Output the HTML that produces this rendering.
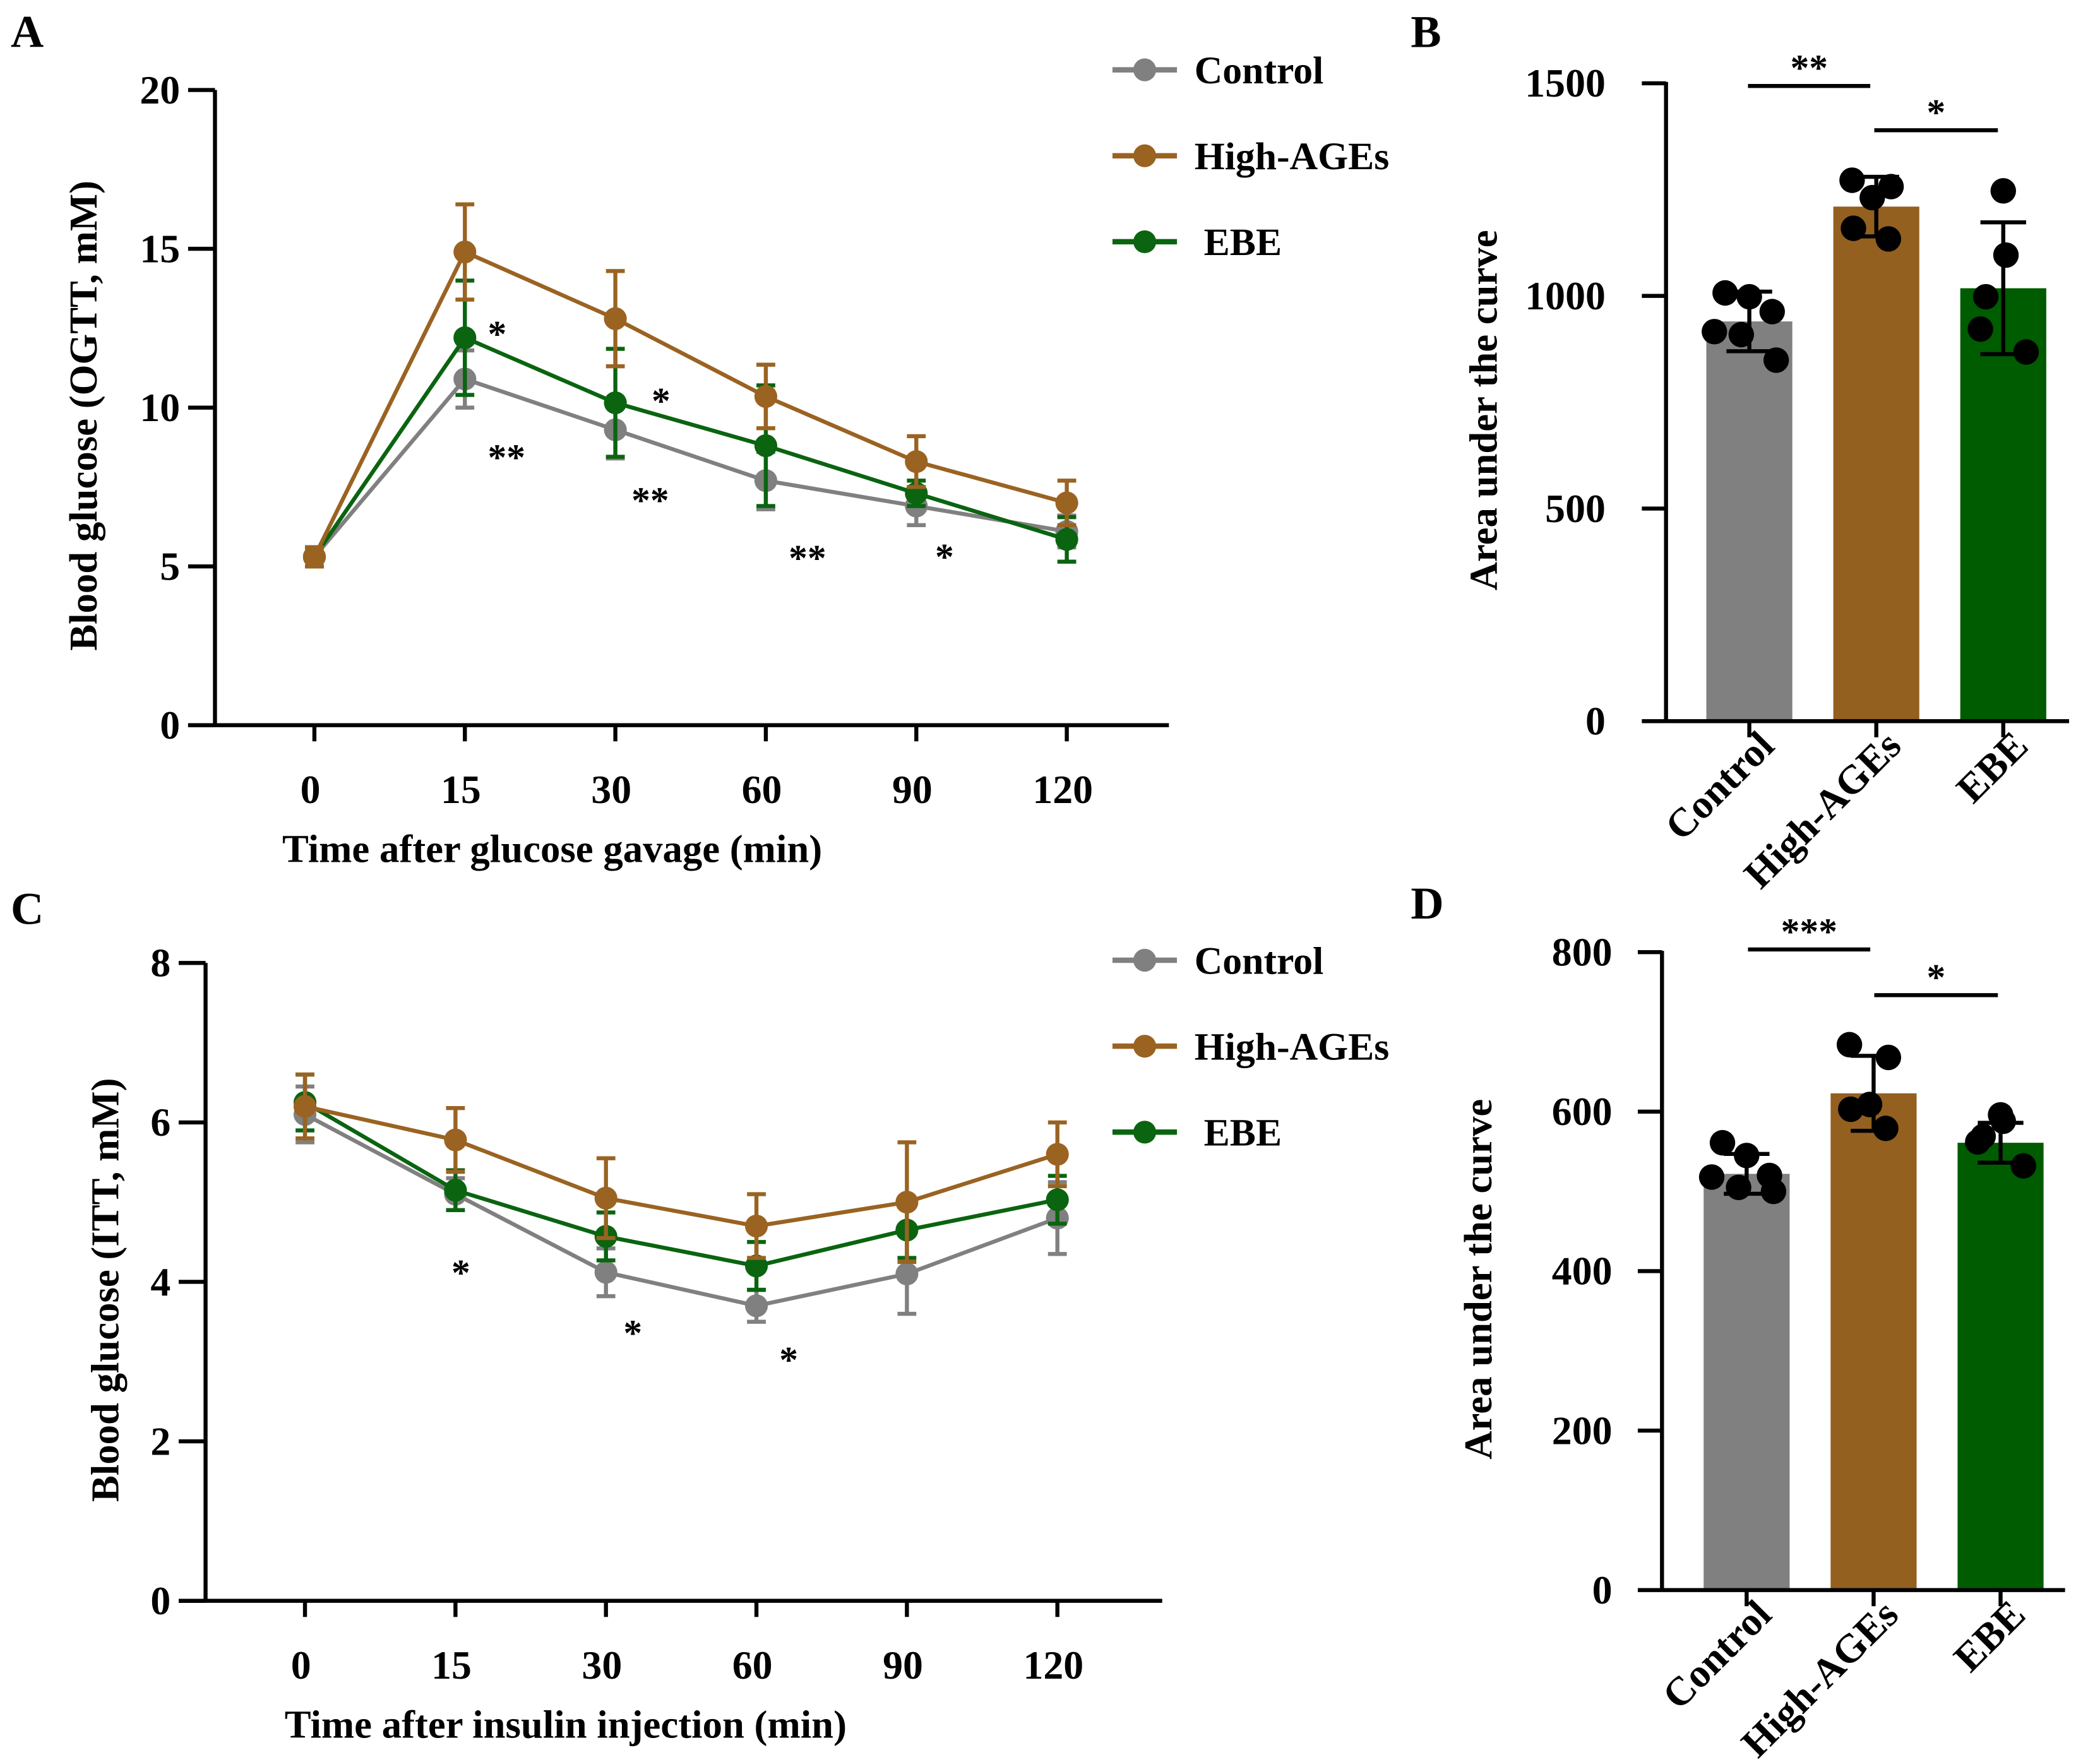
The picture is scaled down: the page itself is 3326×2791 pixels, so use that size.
<!DOCTYPE html>
<html><head><meta charset="utf-8"><style>
html,body{margin:0;padding:0;background:#fff}
svg{display:block}
text{font-family:"Liberation Serif",serif;font-weight:bold;fill:#000}
</style></head><body>
<svg id="fig" width="3326" height="2791" viewBox="0 0 1563 1312" preserveAspectRatio="none" xmlns="http://www.w3.org/2000/svg"></svg>
<script>
// ---------- DATA ----------
const timeLabels = ["0","15","30","60","90","120"];
const seriesNames = ["Control","High-AGEs","EBE"];
const ogttControl = [5.3,10.9,9.3,7.7,6.9,6.1];
const ogttControlErr = [0.3,0.9,0.9,0.9,0.6,0.5];
const ogttHigh = [5.3,14.9,12.8,10.35,8.3,7.0];
const ogttHighErr = [0.3,1.5,1.5,1.0,0.8,0.7];
const ogttEBE = [5.3,12.2,10.15,8.8,7.3,5.85];
const ogttEBEErr = [0.3,1.8,1.7,1.9,0.4,0.7];
const ogttTicks = [0,5,10,15,20];
const ittControl = [6.1,5.1,4.12,3.7,4.1,4.8];
const ittControlErr = [0.35,0.2,0.3,0.2,0.5,0.45];
const ittHigh = [6.2,5.78,5.05,4.7,5.0,5.6];
const ittHighErr = [0.4,0.4,0.5,0.4,0.75,0.4];
const ittEBE = [6.25,5.15,4.57,4.2,4.65,5.03];
const ittEBEErr = [0.35,0.25,0.3,0.3,0.35,0.3];
const ittTicks = [0,2,4,6,8];
const barCats = ["Control","High-AGEs","EBE"];
const aucOgtt = [940,1210,1018];
const aucOgttErr = [70,70,155];
const aucOgttDots = [[1007,998,963,916,909,849],[1272,1257,1231,1159,1134],[1247,1096,998,922,868]];
const aucOgttTicks = [0,500,1000,1500];
const aucItt = [522,623,561];
const aucIttErr = [25,47,25];
const aucIttDots = [[561,545,520,518,505,500],[684,668,609,603,579],[596,588,569,562,532]];
const aucIttTicks = [0,200,400,600,800];

const colors = ["#808080","#9a6322","#0a6410"];
const barColors = ["#808080","#936020","#005c00"];
const dotDx = [[-18,0,17,-26,-6,20],[-18,11,-3,-17,9],[0,2,-13,-17,17]];

const svg = document.getElementById('fig');
const NS = "http://www.w3.org/2000/svg";
function el(tag, attrs, parent){const e=document.createElementNS(NS,tag);for(const k in attrs)e.setAttribute(k,attrs[k]);(parent||svg).appendChild(e);return e;}
function txt(s,x,y,size,anchor,parent,extra){const t=el('text',Object.assign({x:x,y:y,'font-size':size,'text-anchor':anchor||'middle'},extra||{}),parent);t.textContent=s;return t;}

function linePanel(cfg){
  const g=el('g',{});
  
  
  const yMax=cfg.ticks[cfg.ticks.length-1];
  const ys=v=>cfg.y0-(cfg.y0-cfg.yTop)*v/yMax;
  const xs=i=>cfg.x0+cfg.dx*i;
  const ya=el('line',{x1:cfg.ax,y1:cfg.yTop,x2:cfg.ax,y2:cfg.y0+1,stroke:'#000','stroke-width':3},g);
  
  const xa=el('line',{x1:cfg.ax-20,y1:cfg.y0,x2:cfg.axEnd,y2:cfg.y0,stroke:'#000','stroke-width':3},g);
  
  cfg.ticks.forEach(v=>{
    el('line',{x1:cfg.ax-20,y1:ys(v),x2:cfg.ax,y2:ys(v),stroke:'#000','stroke-width':3},g);
    const t=txt(String(v),cfg.ax-26,ys(v)+10,30,'end',g);
    
  });
  timeLabels.forEach((l,i)=>{
    el('line',{x1:xs(i),y1:cfg.y0,x2:xs(i),y2:cfg.y0+12,stroke:'#000','stroke-width':3},g);
    const t=txt(l,xs(i)-3,cfg.y0+58,30,'middle',g);
    
  });
  const yt=txt(cfg.yTitle,0,0,29.5,'middle',g,{transform:`translate(${cfg.ytx},${(cfg.y0+cfg.yTop)/2+6}) rotate(-90)`});
  
  const xt=txt(cfg.xTitle,cfg.xtx,cfg.y0+102,29.5,'middle',g);
  
  const order=[0,2,1];
  order.forEach(si=>{
    const vals=cfg.series[si], errs=cfg.errs[si];
    const sg=el('g',{},g);
    
    
    vals.forEach((v,i)=>{
      el('line',{x1:xs(i),y1:ys(v-errs[i]),x2:xs(i),y2:ys(v+errs[i]),stroke:colors[si],'stroke-width':3},sg);
      el('line',{x1:xs(i)-7,y1:ys(v+errs[i]),x2:xs(i)+7,y2:ys(v+errs[i]),stroke:colors[si],'stroke-width':3},sg);
      el('line',{x1:xs(i)-7,y1:ys(v-errs[i]),x2:xs(i)+7,y2:ys(v-errs[i]),stroke:colors[si],'stroke-width':3},sg);
    });
    el('polyline',{points:vals.map((v,i)=>xs(i)+','+ys(v)).join(' '),fill:'none',stroke:colors[si],'stroke-width':3},sg);
    vals.forEach((v,i)=>{
      const c=el('circle',{cx:xs(i),cy:ys(v),r:8.5,fill:colors[si]},sg);
      
    });
  });
  cfg.stars.forEach(s=>{const t=txt(s[0],s[1],s[2],28,'middle',g);});
  seriesNames.forEach((n,i)=>{
    const lg=el('g',{},g);
    
    const y=cfg.legY+64*i;
    el('line',{x1:828,y1:y,x2:876,y2:y,stroke:colors[i],'stroke-width':4},lg);
    el('circle',{cx:852,cy:y,r:8.5,fill:colors[i]},lg);
    txt(n,i===2?896:889,y+10,29,'start',lg);
  });
}

function barPanel(cfg){
  const g=el('g',{});
  
  
  const yMax=cfg.ticks[cfg.ticks.length-1];
  const ys=v=>cfg.y0-(cfg.y0-cfg.yTop)*v/yMax;
  const xs=i=>cfg.x0+94.5*i;
  cfg.vals.forEach((v,i)=>{
    const b=el('rect',{x:xs(i)-32,y:ys(v),width:64,height:cfg.y0-ys(v),fill:barColors[i]},g);
    
    const e=cfg.errs[i];
    el('line',{x1:xs(i),y1:ys(v-e),x2:xs(i),y2:ys(v+e),stroke:'#000','stroke-width':3},g);
    el('line',{x1:xs(i)-17,y1:ys(v+e),x2:xs(i)+17,y2:ys(v+e),stroke:'#000','stroke-width':3},g);
    el('line',{x1:xs(i)-17,y1:ys(v-e),x2:xs(i)+17,y2:ys(v-e),stroke:'#000','stroke-width':3},g);
    cfg.dots[i].forEach((d,j)=>{
      const c=el('circle',{cx:xs(i)+dotDx[i][j],cy:ys(d),r:9.5,fill:'#000'},g);
      
    });
  });
  const ya=el('line',{x1:cfg.ax,y1:cfg.yTop-1,x2:cfg.ax,y2:cfg.y0+1,stroke:'#000','stroke-width':3},g);
  
  const xa=el('line',{x1:cfg.ax,y1:cfg.y0,x2:cfg.ax+300,y2:cfg.y0,stroke:'#000','stroke-width':3},g);
  
  cfg.ticks.forEach(v=>{
    el('line',{x1:cfg.ax-18,y1:ys(v),x2:cfg.ax,y2:ys(v),stroke:'#000','stroke-width':3},g);
    const t=txt(String(v),cfg.ax-cfg.labGap,ys(v)+10,30,'end',g);
    
  });
  barCats.forEach((c,i)=>{
    el('line',{x1:xs(i),y1:cfg.y0,x2:xs(i),y2:cfg.y0+12,stroke:'#000','stroke-width':3},g);
    const t=txt(c,0,0,30,'end',g,{transform:`translate(${xs(i)+20},${cfg.y0+20}) rotate(-45)`});
    
  });
  const yt=txt('Area under the curve',0,0,29.5,'middle',g,{transform:`translate(${cfg.ytx},${(cfg.y0+cfg.yTop)/2+6}) rotate(-90)`});
  
  cfg.sig.forEach(s=>{
    const sg=el('g',{},g);
    
    el('line',{x1:s[1],y1:s[3],x2:s[2],y2:s[3],stroke:'#000','stroke-width':3},sg);
    txt(s[0],(s[1]+s[2])/2,s[3]-4,28,'middle',sg);
  });
}

linePanel({name:'panel-a-ogtt',ax:160,axEnd:870,y0:540,yTop:67,x0:234,dx:112,ticks:ogttTicks,ytx:72,xtx:411,
  series:[ogttControl,ogttHigh,ogttEBE],errs:[ogttControlErr,ogttHighErr,ogttEBEErr],
  yTitle:'Blood glucose (OGTT, mM)',xTitle:'Time after glucose gavage (min)',legY:52,
  stars:[['*',370,258],['**',377,350],['*',492,308],['**',484,382],['**',601,425],['*',703,424]]});
linePanel({name:'panel-c-itt',ax:153,axEnd:865,y0:1192,yTop:717,x0:227,dx:112,ticks:ittTicks,ytx:88,xtx:421,
  series:[ittControl,ittHigh,ittEBE],errs:[ittControlErr,ittHighErr,ittEBEErr],
  yTitle:'Blood glucose (ITT, mM)',xTitle:'Time after insulin injection (min)',legY:715,
  stars:[['*',343,957],['*',471,1002],['*',587,1022]]});
barPanel({name:'panel-b-auc-ogtt',ax:1240,y0:537,yTop:62,x0:1302,ticks:aucOgttTicks,vals:aucOgtt,errs:aucOgttErr,dots:aucOgttDots,ytx:1114,labGap:45,
  sig:[['**',1301,1392,64],['*',1395,1487,97]]});
barPanel({name:'panel-d-auc-itt',ax:1237,y0:1184,yTop:709,x0:1300,ticks:aucIttTicks,vals:aucItt,errs:aucIttErr,dots:aucIttDots,ytx:1110,labGap:37,
  sig:[['***',1301,1392,707],['*',1395,1487,741]]});

[['A',8,35],['B',1050,35],['C',8,688],['D',1050,684]].forEach(p=>{
  const t=txt(p[0],p[1],p[2],34,'start');
  
  
});
</script>
</body></html>
